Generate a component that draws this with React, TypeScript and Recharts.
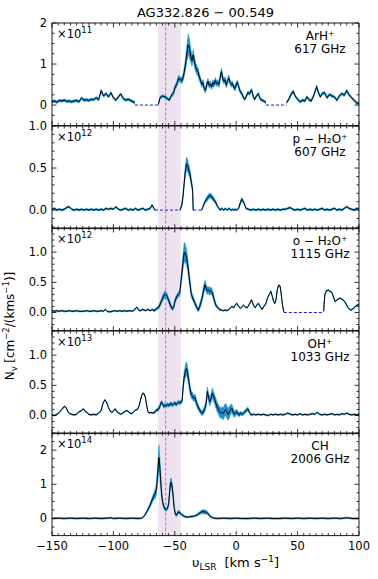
import { ComposedChart, Line, Area, XAxis, YAxis, ReferenceArea, ReferenceLine } from 'recharts'

// [v_LSR (km/s), N_v (panel units), 1-sigma]; null rows break the line at masked channels
type Pt = [number, number | null, number]

const FONT = '"DejaVu Sans", Verdana, sans-serif'
const BAND = '#1f93d2'
const GAP_BLUE = '#1717e0'

const X_DOMAIN: [number, number] = [-150, 100]
const X_MAJOR = [-150, -100, -50, 0, 50, 100]
const X_MAJOR_LABELS = ['−150', '−100', '−50', '0', '50', '100']

const SHADE_RANGE = [-63.5, -45.2]
const SOURCE_VLSR = -57.4

const ARH: Pt[] = [
  [-150, 0.08, 0.03], [-148, 0.1, 0.03], [-146, 0.07, 0.03], [-144, 0.11, 0.03], [-142, 0.1, 0.03],
  [-140, 0.12, 0.03], [-138, 0.09, 0.03], [-136, 0.1, 0.03], [-134, 0.08, 0.03], [-132, 0.1, 0.03],
  [-130, 0.11, 0.03], [-128, 0.08, 0.03], [-126, 0.17, 0.03], [-124, 0.12, 0.03], [-122, 0.13, 0.03],
  [-120, 0.11, 0.03], [-118, 0.14, 0.03], [-116, 0.13, 0.03], [-114, 0.18, 0.03], [-112, 0.13, 0.03],
  [-110, 0.35, 0.04], [-108, 0.22, 0.03], [-106, 0.28, 0.03], [-104, 0.2, 0.03], [-102, 0.3, 0.03],
  [-100, 0.18, 0.03], [-98, 0.12, 0.03], [-96, 0.2, 0.03], [-94, 0.27, 0.03], [-92, 0.16, 0.03],
  [-90, 0.12, 0.03], [-88, 0.14, 0.03], [-86, 0.11, 0.03], [-84, 0.08, 0.03], [-82.5, 0.06, 0.03],
  [-73, null, 0],
  [-63.4, 0.02, 0.03], [-62, 0.18, 0.03], [-60, 0.22, 0.03], [-58, 0.2, 0.03], [-56, 0.16, 0.03],
  [-54.5, 0.12, 0.03], [-53, 0.22, 0.04], [-51, 0.3, 0.05], [-50, 0.42, 0.06], [-48.5, 0.5, 0.06],
  [-47, 0.65, 0.07], [-45.5, 0.62, 0.07], [-44, 0.6, 0.07], [-43, 0.7, 0.08], [-41.5, 0.95, 0.13],
  [-40, 1.3, 0.2], [-39, 1.47, 0.26], [-38, 1.38, 0.22], [-37, 1.2, 0.16], [-36, 1.08, 0.13],
  [-35, 1.22, 0.13], [-34, 1.05, 0.11], [-33, 0.92, 0.11], [-32, 0.85, 0.1], [-31, 0.8, 0.1],
  [-30, 0.68, 0.09], [-29, 0.6, 0.08], [-28, 0.5, 0.07], [-27, 0.55, 0.07], [-26, 0.4, 0.06],
  [-25, 0.36, 0.06], [-24, 0.5, 0.07], [-23, 0.58, 0.07], [-22, 0.48, 0.07], [-21, 0.52, 0.07],
  [-20, 0.44, 0.06], [-19, 0.55, 0.07], [-18, 0.5, 0.07], [-17, 0.6, 0.07], [-16, 0.52, 0.07],
  [-15, 0.55, 0.07], [-14, 0.5, 0.07], [-13, 0.68, 0.08], [-12, 0.82, 0.08], [-11, 0.65, 0.07],
  [-10, 0.58, 0.07], [-9, 0.62, 0.07], [-8, 0.48, 0.06], [-7, 0.6, 0.07], [-6, 0.66, 0.07],
  [-5, 0.56, 0.06], [-4, 0.5, 0.06], [-3, 0.52, 0.06], [-2, 0.44, 0.06], [-1, 0.4, 0.06],
  [0, 0.5, 0.06], [1, 0.55, 0.06], [2, 0.45, 0.05], [3, 0.35, 0.05], [4.5, 0.28, 0.04],
  [6, 0.18, 0.04], [7, 0.14, 0.03], [8, 0.2, 0.03], [9.5, 0.3, 0.04], [11, 0.28, 0.04],
  [12.5, 0.37, 0.04], [14, 0.2, 0.03], [15, 0.14, 0.03], [16.5, 0.22, 0.03], [18, 0.28, 0.03],
  [19.5, 0.15, 0.03], [21, 0.12, 0.03], [22.5, 0.1, 0.03], [24.3, 0.06, 0.03],
  [32, null, 0],
  [41, 0.06, 0.03], [43, 0.15, 0.03], [45, 0.28, 0.04], [46.5, 0.33, 0.04], [48, 0.22, 0.03],
  [50, 0.14, 0.03], [52, 0.08, 0.03], [54, 0.12, 0.03], [56, 0.1, 0.03], [57.5, 0.2, 0.03],
  [59, 0.14, 0.03], [61, 0.1, 0.03], [63, 0.22, 0.03], [65.5, 0.45, 0.04], [67, 0.3, 0.04],
  [68.5, 0.2, 0.03], [70, 0.28, 0.03], [72, 0.3, 0.03], [74, 0.18, 0.03], [76, 0.26, 0.03],
  [78, 0.22, 0.03], [80, 0.2, 0.03], [82, 0.12, 0.03], [84, 0.22, 0.03], [86, 0.28, 0.03],
  [88, 0.24, 0.03], [90, 0.35, 0.04], [92, 0.25, 0.03], [94, 0.18, 0.03], [96, 0.12, 0.03],
  [98, 0.05, 0.03], [100, 0.04, 0.03],
]
const ARH_GAPS = [[-82.5, -63.4], [24.3, 41]]

const PH2O: Pt[] = [
  [-150, 0.01, 0.01], [-148, 0.02, 0.01], [-146, 0.0, 0.01], [-144, 0.01, 0.01], [-142, 0.0, 0.01],
  [-140, 0.01, 0.01], [-138, 0.03, 0.01], [-136, 0.04, 0.01], [-134, 0.01, 0.01], [-132, 0.0, 0.01],
  [-130, 0.01, 0.01], [-128, 0.0, 0.01], [-126, 0.01, 0.01], [-124, 0.0, 0.01], [-122, 0.01, 0.01],
  [-120, 0.0, 0.01], [-118, 0.01, 0.01], [-116, 0.0, 0.01], [-114, 0.01, 0.01], [-112, 0.0, 0.01],
  [-110, 0.01, 0.01], [-108, 0.0, 0.01], [-106, 0.02, 0.01], [-104, 0.01, 0.01], [-102, 0.02, 0.01],
  [-100, 0.01, 0.01], [-98, 0.04, 0.01], [-96, 0.01, 0.01], [-94, 0.0, 0.01], [-92, 0.01, 0.01],
  [-90, 0.02, 0.01], [-88, 0.0, 0.01], [-86, 0.01, 0.01], [-84, 0.0, 0.01], [-82, 0.02, 0.01],
  [-80, 0.0, 0.01], [-78, 0.01, 0.01], [-76, 0.02, 0.01], [-74, 0.0, 0.01], [-72, 0.01, 0.01],
  [-70, 0.02, 0.01], [-68.5, 0.06, 0.01], [-67, 0.02, 0.01], [-66.1, 0.0, 0.01],
  [-56, null, 0],
  [-45.8, 0.0, 0.01], [-44.5, 0.05, 0.02], [-43.5, 0.14, 0.03], [-42.5, 0.3, 0.04], [-41.5, 0.45, 0.06],
  [-40.5, 0.55, 0.08], [-39.5, 0.53, 0.07], [-38.5, 0.47, 0.06], [-37.5, 0.42, 0.05], [-36.5, 0.33, 0.04],
  [-35.5, 0.24, 0.03], [-35, 0.0, 0.01],
  [-31.5, null, 0],
  [-28.1, 0.0, 0.01], [-27, 0.04, 0.01], [-26, 0.08, 0.02], [-25, 0.11, 0.02], [-24, 0.13, 0.03],
  [-23, 0.15, 0.03], [-22, 0.17, 0.03], [-21, 0.17, 0.03], [-20, 0.16, 0.03], [-19, 0.14, 0.03],
  [-18, 0.12, 0.02], [-17, 0.1, 0.02], [-16, 0.07, 0.02], [-15, 0.04, 0.01], [-14, 0.02, 0.01],
  [-13, 0.0, 0.01], [-12, 0.02, 0.01], [-11, 0.01, 0.01], [-10, 0.0, 0.01], [-9, 0.02, 0.01],
  [-8, 0.01, 0.01], [-7, 0.0, 0.01], [-6, 0.02, 0.01], [-5, 0.01, 0.01], [-4, 0.0, 0.01],
  [-3, 0.01, 0.01], [-2, 0.0, 0.01], [-1, 0.01, 0.01], [0, 0.0, 0.01], [1, 0.01, 0.01],
  [2, 0.02, 0.01], [3, 0.07, 0.02], [4.5, 0.13, 0.02], [5.5, 0.11, 0.02], [7, 0.06, 0.01],
  [8, 0.02, 0.01], [10, 0.01, 0.01], [12, 0.0, 0.01], [14, 0.01, 0.01], [16, 0.0, 0.01],
  [18, 0.01, 0.01], [20, 0.0, 0.01], [22, 0.01, 0.01], [24, 0.0, 0.01], [26, 0.01, 0.01],
  [28, 0.0, 0.01], [30, 0.01, 0.01], [32, 0.0, 0.01], [34, 0.01, 0.01], [36, 0.0, 0.01],
  [38, 0.01, 0.01], [40, 0.01, 0.01], [42, 0.02, 0.01], [44, 0.03, 0.01], [46, 0.01, 0.01],
  [48, 0.0, 0.01], [50, 0.01, 0.01], [52, 0.0, 0.01], [54, 0.01, 0.01], [56, 0.02, 0.01],
  [58, 0.0, 0.01], [60, 0.01, 0.01], [62, 0.0, 0.01], [64, 0.01, 0.01], [66, 0.0, 0.01],
  [68, 0.01, 0.01], [70, 0.02, 0.01], [72, 0.0, 0.01], [74, 0.01, 0.01], [76, 0.0, 0.01],
  [78, 0.01, 0.01], [80, 0.02, 0.01], [82, 0.0, 0.01], [84, 0.01, 0.01], [86, 0.0, 0.01],
  [88, 0.02, 0.01], [90, 0.04, 0.01], [92, 0.02, 0.01], [94, 0.01, 0.01], [96, 0.0, 0.01],
  [98, 0.02, 0.01], [100, 0.01, 0.01],
]
const PH2O_GAPS = [[-66.1, -45.8], [-35, -28.1]]

const OH2O: Pt[] = [
  [-150, 0.03, 0.01], [-148, 0.02, 0.01], [-146, 0.03, 0.01], [-144, 0.02, 0.01], [-142, 0.03, 0.01],
  [-140, 0.02, 0.01], [-138, 0.02, 0.01], [-136, 0.03, 0.01], [-134, 0.02, 0.01], [-132, 0.02, 0.01],
  [-130, 0.03, 0.01], [-128, 0.02, 0.01], [-126, 0.02, 0.01], [-124, 0.02, 0.01], [-122, 0.03, 0.01],
  [-120, 0.02, 0.01], [-118, 0.02, 0.01], [-116, 0.03, 0.01], [-114, 0.02, 0.01], [-112, 0.02, 0.01],
  [-110, 0.03, 0.01], [-108, 0.02, 0.01], [-106.5, 0.05, 0.01], [-105, 0.02, 0.01], [-103, 0.01, 0.01],
  [-101, 0.02, 0.01], [-99, 0.03, 0.01], [-97, 0.02, 0.01], [-95, 0.03, 0.01], [-93, 0.02, 0.01],
  [-91, 0.03, 0.01], [-89, 0.02, 0.01], [-87, 0.03, 0.01], [-85, 0.02, 0.01], [-83, 0.04, 0.01],
  [-81, 0.09, 0.01], [-79.5, 0.04, 0.01], [-78, 0.03, 0.01], [-76, 0.05, 0.01], [-74, 0.03, 0.01],
  [-72, 0.05, 0.01], [-70, 0.03, 0.01], [-68.5, 0.05, 0.01], [-67, 0.03, 0.02], [-65, 0.06, 0.02],
  [-63, 0.09, 0.03], [-61, 0.18, 0.04], [-59.5, 0.26, 0.05], [-58, 0.3, 0.06], [-56.5, 0.28, 0.05],
  [-55, 0.2, 0.04], [-53.5, 0.12, 0.04], [-52, 0.06, 0.03], [-51, 0.08, 0.03], [-50, 0.18, 0.04],
  [-48.5, 0.26, 0.04], [-47, 0.3, 0.04], [-46, 0.32, 0.05], [-45, 0.5, 0.07], [-44, 0.7, 0.1],
  [-43, 0.9, 0.13], [-42.3, 1.0, 0.16], [-41.5, 0.98, 0.15], [-40.5, 0.92, 0.13], [-39.5, 0.8, 0.1],
  [-38.5, 0.62, 0.09], [-37.5, 0.45, 0.07], [-36.5, 0.3, 0.05], [-35, 0.22, 0.04], [-33.5, 0.15, 0.04],
  [-32, 0.08, 0.03], [-31, 0.04, 0.03], [-30, 0.08, 0.04], [-29, 0.15, 0.05], [-28, 0.22, 0.05],
  [-27, 0.32, 0.06], [-26, 0.42, 0.07], [-25.3, 0.46, 0.07], [-24.5, 0.4, 0.06], [-23.5, 0.36, 0.06],
  [-22.5, 0.37, 0.06], [-21.5, 0.35, 0.06], [-20.5, 0.36, 0.06], [-19.5, 0.33, 0.05], [-18.5, 0.26, 0.05],
  [-17.5, 0.18, 0.04], [-16.5, 0.12, 0.03], [-15, 0.08, 0.02], [-13.5, 0.05, 0.02], [-12, 0.04, 0.01],
  [-10.5, 0.03, 0.01], [-9, 0.04, 0.01], [-7.5, 0.03, 0.01], [-6, 0.05, 0.01], [-4.5, 0.08, 0.01],
  [-3.5, 0.1, 0.01], [-2, 0.08, 0.01], [-1, 0.12, 0.01], [0.5, 0.15, 0.01], [2, 0.1, 0.01],
  [3.5, 0.07, 0.01], [5, 0.1, 0.01], [6, 0.12, 0.01], [7.5, 0.09, 0.01], [9, 0.08, 0.01],
  [10.5, 0.13, 0.01], [12.5, 0.21, 0.01], [14, 0.12, 0.01], [15.5, 0.08, 0.01], [17, 0.13, 0.01],
  [18, 0.15, 0.01], [19.5, 0.1, 0.01], [21, 0.05, 0.01], [22.5, 0.1, 0.01], [24, 0.14, 0.01],
  [25.5, 0.24, 0.01], [27, 0.3, 0.01], [28.3, 0.35, 0.01], [29.5, 0.26, 0.01], [30.5, 0.18, 0.01],
  [31.5, 0.15, 0.01], [32.5, 0.22, 0.01], [33.5, 0.38, 0.01], [34.5, 0.45, 0.01], [35.7, 0.44, 0.01],
  [36.7, 0.3, 0.01], [37.7, 0.12, 0.01], [38.8, 0.01, 0.01],
  [55, null, 0],
  [71.2, 0.02, 0.01], [72.2, 0.3, 0.01], [73.5, 0.36, 0.01], [75, 0.37, 0.01], [76.5, 0.35, 0.01],
  [78, 0.33, 0.01], [79.5, 0.24, 0.01], [80.5, 0.18, 0.01], [81.5, 0.2, 0.01], [83, 0.22, 0.01],
  [84.5, 0.24, 0.01], [86, 0.22, 0.01], [87.5, 0.2, 0.01], [89, 0.16, 0.01], [90.5, 0.1, 0.01],
  [92, 0.06, 0.01], [93.5, 0.04, 0.01], [95, 0.06, 0.01], [96.7, 0.09, 0.01], [98, 0.12, 0.01],
  [100, 0.13, 0.01],
]
const OH2O_GAPS = [[38.8, 71.2]]

const OHP: Pt[] = [
  [-150, 0.01, 0.01], [-148, 0.0, 0.01], [-146, 0.02, 0.01], [-144, 0.05, 0.01], [-142, 0.1, 0.01],
  [-140, 0.15, 0.01], [-138.5, 0.13, 0.01], [-137, 0.06, 0.01], [-135.5, 0.03, 0.01], [-134, 0.02, 0.01],
  [-132, 0.01, 0.01], [-130, 0.02, 0.01], [-128, 0.06, 0.01], [-126, 0.08, 0.01], [-124.5, 0.11, 0.01],
  [-123, 0.07, 0.01], [-121.5, 0.05, 0.01], [-120, 0.02, 0.01], [-118, 0.01, 0.01], [-116, 0.02, 0.01],
  [-114, 0.01, 0.01], [-112, 0.04, 0.01], [-110, 0.08, 0.01], [-108.5, 0.2, 0.01], [-107, 0.26, 0.01],
  [-105.5, 0.22, 0.01], [-104, 0.13, 0.01], [-102.5, 0.07, 0.01], [-101, 0.05, 0.01], [-99.5, 0.09, 0.01],
  [-98.5, 0.11, 0.01], [-97, 0.06, 0.01], [-95.5, 0.04, 0.01], [-94, 0.02, 0.01], [-92.5, 0.04, 0.01],
  [-91, 0.06, 0.01], [-89.5, 0.08, 0.01], [-88, 0.07, 0.01], [-86.5, 0.04, 0.01], [-85, 0.03, 0.01],
  [-83.5, 0.06, 0.01], [-82, 0.09, 0.01], [-80.5, 0.1, 0.01], [-79, 0.16, 0.01], [-78, 0.25, 0.01],
  [-77, 0.33, 0.01], [-76, 0.37, 0.01], [-75, 0.36, 0.01], [-74, 0.3, 0.01], [-73, 0.18, 0.01],
  [-72, 0.07, 0.01], [-71, 0.04, 0.01], [-69.5, 0.05, 0.01], [-68, 0.04, 0.01], [-66.5, 0.05, 0.02],
  [-65, 0.09, 0.02], [-63.5, 0.1, 0.03], [-62, 0.16, 0.03], [-61, 0.22, 0.03], [-60, 0.2, 0.03],
  [-59, 0.15, 0.03], [-58, 0.17, 0.03], [-57, 0.16, 0.03], [-56, 0.18, 0.03], [-55, 0.17, 0.03],
  [-54, 0.18, 0.03], [-53, 0.2, 0.03], [-52, 0.17, 0.03], [-51, 0.19, 0.03], [-50, 0.21, 0.03],
  [-49, 0.18, 0.03], [-48, 0.2, 0.03], [-47, 0.22, 0.03], [-46, 0.21, 0.03], [-45, 0.22, 0.03],
  [-44, 0.25, 0.04], [-43.3, 0.45, 0.06], [-42.5, 0.62, 0.08], [-41.5, 0.72, 0.1], [-40.5, 0.78, 0.11],
  [-39.5, 0.7, 0.1], [-38.5, 0.56, 0.08], [-37.5, 0.42, 0.07], [-36.5, 0.34, 0.06], [-35.5, 0.32, 0.06],
  [-34.5, 0.28, 0.05], [-33.5, 0.3, 0.05], [-32.5, 0.22, 0.05], [-31.5, 0.16, 0.05], [-30.5, 0.12, 0.04],
  [-29.5, 0.08, 0.04], [-28.5, 0.05, 0.04], [-27.5, 0.04, 0.04], [-26.5, 0.07, 0.05], [-25.5, 0.12, 0.05],
  [-24.5, 0.2, 0.06], [-23.5, 0.4, 0.07], [-22.5, 0.3, 0.07], [-21.5, 0.23, 0.07], [-20.5, 0.28, 0.07],
  [-19.5, 0.37, 0.08], [-18.5, 0.32, 0.08], [-17.5, 0.26, 0.08], [-16.5, 0.2, 0.08], [-15.5, 0.14, 0.08],
  [-14.5, 0.1, 0.08], [-13.5, 0.06, 0.08], [-12.5, 0.04, 0.09], [-11.5, 0.05, 0.09], [-10.5, 0.03, 0.1],
  [-9.5, 0.08, 0.1], [-8.5, 0.1, 0.1], [-7.5, 0.05, 0.1], [-6.5, 0.02, 0.1], [-5.5, 0.06, 0.09],
  [-4.5, 0.1, 0.08], [-3.5, 0.12, 0.07], [-2.5, 0.06, 0.06], [-1.5, 0.02, 0.05], [-0.5, 0.04, 0.05],
  [0.5, 0.06, 0.04], [1.5, 0.03, 0.04], [2.5, 0.01, 0.03], [3.5, 0.04, 0.03], [5, 0.02, 0.03],
  [6.5, 0.05, 0.03], [8, 0.08, 0.03], [9.5, 0.11, 0.03], [11, 0.04, 0.02], [12.5, 0.01, 0.02],
  [14, 0.02, 0.01], [16, 0.01, 0.01], [18, 0.02, 0.01], [20, 0.01, 0.01], [22, 0.02, 0.01],
  [24, 0.01, 0.01], [26, 0.0, 0.01], [28, 0.02, 0.01], [30, 0.01, 0.01], [32, 0.02, 0.01],
  [34, 0.01, 0.01], [36, 0.02, 0.01], [38, 0.01, 0.01], [40, 0.02, 0.01], [42, 0.04, 0.01],
  [44, 0.02, 0.01], [46, 0.01, 0.01], [48, 0.02, 0.01], [50, 0.01, 0.01], [52, 0.03, 0.01],
  [54, 0.01, 0.01], [56, 0.02, 0.01], [58, 0.01, 0.01], [60, 0.02, 0.01], [62, 0.03, 0.01],
  [64, 0.02, 0.01], [66, 0.05, 0.01], [68, 0.02, 0.01], [70, 0.01, 0.01], [72, 0.02, 0.01],
  [74, 0.01, 0.01], [76, 0.02, 0.01], [78, 0.03, 0.01], [80, 0.01, 0.01], [82, 0.02, 0.01],
  [84, 0.01, 0.01], [86, 0.03, 0.01], [88, 0.02, 0.01], [90, 0.04, 0.01], [92, 0.02, 0.01],
  [94, 0.01, 0.01], [96, 0.02, 0.01], [98, 0.01, 0.01], [100, 0.02, 0.01],
]

const CH: Pt[] = [
  [-150, 0.0, 0.02], [-145, 0.01, 0.02], [-140, 0.0, 0.02], [-135, 0.01, 0.02], [-130, 0.0, 0.02],
  [-125, 0.01, 0.02], [-120, 0.0, 0.02], [-115, 0.01, 0.02], [-110, 0.0, 0.02], [-105, 0.01, 0.02],
  [-102, 0.02, 0.02], [-100, 0.0, 0.02], [-95, 0.01, 0.02], [-90, 0.0, 0.02], [-85, 0.01, 0.02],
  [-80, 0.0, 0.02], [-77, 0.01, 0.02], [-75.5, 0.05, 0.02], [-74, 0.12, 0.03], [-72.5, 0.22, 0.04],
  [-71, 0.32, 0.05], [-69.5, 0.45, 0.07], [-68, 0.58, 0.09], [-67, 0.66, 0.11], [-66, 0.72, 0.13],
  [-65, 0.85, 0.16], [-64.2, 1.2, 0.23], [-63.5, 1.55, 0.3], [-62.9, 1.78, 0.36], [-62.2, 1.5, 0.28],
  [-61.5, 1.15, 0.2], [-60.8, 0.75, 0.12], [-60, 0.5, 0.08], [-59, 0.35, 0.06], [-58, 0.28, 0.05],
  [-57, 0.26, 0.05], [-56, 0.3, 0.05], [-55, 0.42, 0.06], [-54.3, 0.75, 0.1], [-53.5, 1.05, 0.13],
  [-52.8, 1.05, 0.13], [-52, 0.88, 0.11], [-51.2, 0.6, 0.08], [-50.5, 0.32, 0.05], [-49.5, 0.12, 0.04],
  [-48.5, 0.1, 0.04], [-47.5, 0.18, 0.05], [-46.5, 0.19, 0.05], [-45.5, 0.15, 0.04], [-44.5, 0.12, 0.03],
  [-43.5, 0.09, 0.03], [-42, 0.06, 0.03], [-40, 0.04, 0.02], [-38, 0.05, 0.02], [-36, 0.06, 0.02],
  [-34, 0.07, 0.02], [-32, 0.1, 0.03], [-30, 0.15, 0.04], [-28.5, 0.19, 0.05], [-27, 0.2, 0.06],
  [-25.5, 0.19, 0.06], [-24, 0.18, 0.05], [-22.5, 0.12, 0.04], [-21, 0.06, 0.03], [-19.5, 0.03, 0.02],
  [-18, 0.01, 0.02], [-15, 0.0, 0.02], [-10, 0.01, 0.02], [-5, 0.0, 0.02], [0, 0.01, 0.02],
  [5, 0.0, 0.02], [10, 0.0, 0.02], [15, 0.01, 0.02], [20, 0.0, 0.02], [25, 0.01, 0.02],
  [30, 0.0, 0.02], [35, 0.0, 0.02], [40, 0.01, 0.02], [45, 0.0, 0.02], [50, 0.01, 0.02],
  [55, 0.0, 0.02], [60, 0.01, 0.02], [65, 0.0, 0.02], [70, 0.01, 0.02], [75, 0.0, 0.02],
  [80, 0.01, 0.02], [85, 0.0, 0.02], [90, 0.02, 0.02], [95, 0.0, 0.02], [100, 0.0, 0.02],
]

const SPECIES = ['ArH⁺', 'p − H₂O⁺', 'o − H₂O⁺', 'OH⁺', 'CH']
const FREQS = ['617 GHz', '607 GHz', '1115 GHz', '1033 GHz', '2006 GHz']
const EXPONENTS = ['11', '12', '12', '13', '14']

const PANELS = [
  { data: ARH, gaps: ARH_GAPS, domain: [-0.5, 2], major: [0, 1, 2], labels: ['0', '1', '2'], minor: 0.25 },
  { data: PH2O, gaps: PH2O_GAPS, domain: [-0.22, 1], major: [0, 0.5, 1], labels: ['0.0', '0.5', '1.0'], minor: 0.1 },
  { data: OH2O, gaps: OH2O_GAPS, domain: [-0.3, 1.4], major: [0, 0.5, 1], labels: ['0.0', '0.5', '1.0'], minor: 0.1 },
  { data: OHP, gaps: [], domain: [-0.3, 1.4], major: [0, 0.5, 1], labels: ['0.0', '0.5', '1.0'], minor: 0.1 },
  { data: CH, gaps: [], domain: [-0.5, 2.5], major: [0, 1, 2], labels: ['0', '1', '2'], minor: 0.25 },
]

const W = 378
const H = 579
const PLOT_LEFT = 52
const PLOT_RIGHT = 359
const FIRST_TOP = 23
const PANEL_H = 102.6
const PAD = 14
const BOTTOM_PAD = 34
// axes need a non-zero size to be drawn at all; this 1px is taken out of the margins
const AXIS_PX = 1

function steps(lo: number, hi: number, step: number) {
  const out: number[] = []
  const n = Math.floor((hi - lo) / step + 1e-6)
  for (let i = 0; i <= n; i++) out.push(Math.round((lo + i * step) * 1000) / 1000)
  return out
}

const X_TICKS = steps(-150, 100, 5)

function near(a: number, b: number) {
  return Math.abs(a - b) < 1e-6
}

function makeXTick(side: 'top' | 'bottom', showLabel: boolean) {
  return (props: any) => {
    const { x, y, payload } = props
    const idx = X_MAJOR.findIndex((m) => near(m, payload.value))
    const len = idx >= 0 ? 4.5 : 2.5
    const dir = side === 'bottom' ? -1 : 1
    return (
      <g>
        <line x1={x} x2={x} y1={y} y2={y + dir * len} stroke="#000" strokeWidth={0.8} />
        {showLabel && idx >= 0 && (
          <text x={x} y={y + 14.5} textAnchor="middle" fontSize={11.5} fontFamily={FONT} fill="#000">
            {X_MAJOR_LABELS[idx]}
          </text>
        )}
      </g>
    )
  }
}

function makeYTick(side: 'left' | 'right', major: number[], labels: string[]) {
  return (props: any) => {
    const { x, y, payload } = props
    const idx = major.findIndex((m) => near(m, payload.value))
    const len = idx >= 0 ? 4.5 : 2.5
    const dir = side === 'left' ? 1 : -1
    return (
      <g>
        <line x1={x} x2={x + dir * len} y1={y} y2={y} stroke="#000" strokeWidth={0.8} />
        {side === 'left' && idx >= 0 && (
          <text x={x - 5} y={y + 4} textAnchor="end" fontSize={11.5} fontFamily={FONT} fill="#000">
            {labels[idx]}
          </text>
        )}
      </g>
    )
  }
}

function Panel({ index }: { index: number }) {
  const p = PANELS[index]
  const last = index === PANELS.length - 1
  const top = FIRST_TOP + index * PANEL_H
  const padBottom = last ? BOTTOM_PAD : PAD
  const rows = p.data.map(([v, n, e]) => ({
    v,
    n,
    band: n == null ? null : [n - e, n + e],
  }))
  const up = steps(0, p.domain[1], p.minor)
  const down = steps(0, -p.domain[0], p.minor).slice(1).map((t) => -t)
  const yTicks = down.reverse().concat(up)
  const axisLine = { stroke: '#000', strokeWidth: 0.9 }

  return (
    <div style={{ position: 'absolute', left: 0, top: top - PAD }}>
      <ComposedChart
        width={W}
        height={PANEL_H + PAD + padBottom}
        data={rows}
        margin={{
          top: PAD - AXIS_PX,
          bottom: padBottom - AXIS_PX,
          left: PLOT_LEFT - AXIS_PX,
          right: W - PLOT_RIGHT - AXIS_PX,
        }}
      >
        <XAxis
          xAxisId="b"
          dataKey="v"
          type="number"
          domain={X_DOMAIN}
          allowDataOverflow
          ticks={X_TICKS}
          interval={0}
          height={AXIS_PX}
          tickSize={0}
          tickMargin={0}
          tickLine={false}
          axisLine={axisLine}
          tick={makeXTick('bottom', last)}
        />
        <XAxis
          xAxisId="t"
          orientation="top"
          dataKey="v"
          type="number"
          domain={X_DOMAIN}
          allowDataOverflow
          ticks={X_TICKS}
          interval={0}
          height={AXIS_PX}
          tickSize={0}
          tickMargin={0}
          tickLine={false}
          axisLine={axisLine}
          tick={makeXTick('top', false)}
        />
        <YAxis
          yAxisId="l"
          type="number"
          domain={p.domain}
          allowDataOverflow
          ticks={yTicks}
          interval={0}
          width={AXIS_PX}
          tickSize={0}
          tickMargin={0}
          tickLine={false}
          axisLine={axisLine}
          tick={makeYTick('left', p.major, p.labels)}
        />
        <YAxis
          yAxisId="r"
          orientation="right"
          type="number"
          domain={p.domain}
          allowDataOverflow
          ticks={yTicks}
          interval={0}
          width={AXIS_PX}
          tickSize={0}
          tickMargin={0}
          tickLine={false}
          axisLine={axisLine}
          tick={makeYTick('right', p.major, p.labels)}
        />
        <ReferenceArea
          xAxisId="b"
          yAxisId="l"
          x1={SHADE_RANGE[0]}
          x2={SHADE_RANGE[1]}
          fill="#8b3a92"
          fillOpacity={0.15}
          stroke="none"
        />
        <ReferenceLine
          xAxisId="b"
          yAxisId="l"
          x={SOURCE_VLSR}
          stroke="#a266a8"
          strokeWidth={0.9}
          strokeDasharray="3 2"
        />
        {p.gaps.map(([a, b], i) => (
          <ReferenceLine
            key={i}
            xAxisId="b"
            yAxisId="l"
            segment={[{ x: a, y: 0 }, { x: b, y: 0 }]}
            stroke={GAP_BLUE}
            strokeWidth={1}
            strokeDasharray="3 2"
          />
        ))}
        <Area
          xAxisId="b"
          yAxisId="l"
          dataKey="band"
          stroke={BAND}
          strokeWidth={0.6}
          fill={BAND}
          fillOpacity={1}
          dot={false}
          activeDot={false}
          isAnimationActive={false}
        />
        <Line
          xAxisId="b"
          yAxisId="l"
          dataKey="n"
          stroke="#000"
          strokeWidth={0.95}
          dot={false}
          activeDot={false}
          isAnimationActive={false}
        />
      </ComposedChart>
    </div>
  )
}

function Annotations() {
  const midX = (PLOT_LEFT + PLOT_RIGHT) / 2
  return (
    <svg
      width={W}
      height={H}
      style={{ position: 'absolute', left: 0, top: 0, pointerEvents: 'none' }}
      fontFamily={FONT}
      fill="#000"
    >
      <text x={midX} y={17} textAnchor="middle" fontSize={13}>
        AG332.826 − 00.549
      </text>
      {SPECIES.map((s, i) => {
        const top = FIRST_TOP + i * PANEL_H
        return (
          <g key={s}>
            <text x={57} y={top + 15} fontSize={11.5}>
              ×10<tspan dy={-5} fontSize={8.5}>{EXPONENTS[i]}</tspan>
            </text>
            <text x={320} y={top + 17} textAnchor="middle" fontSize={12}>
              {s}
            </text>
            <text x={320} y={top + 30} textAnchor="middle" fontSize={12}>
              {FREQS[i]}
            </text>
          </g>
        )
      })}
      <text x={192} y={567} fontSize={13}>
        υ<tspan dy={3} fontSize={9}>LSR</tspan>
        <tspan dy={-3} dx={8}>[km s</tspan>
        <tspan dy={-5} fontSize={9}>−1</tspan>
        <tspan dy={5}>]</tspan>
      </text>
      <text x={14} y={326} fontSize={12} textAnchor="middle" transform="rotate(-90 14 326)">
        N<tspan dy={3} fontSize={8.5}>v</tspan>
        <tspan dy={-3} dx={3.5}>[cm</tspan>
        <tspan dy={-5} fontSize={8.5}>−2</tspan>
        <tspan dy={5}>/(kms</tspan>
        <tspan dy={-5} fontSize={8.5}>−1</tspan>
        <tspan dy={5}>)]</tspan>
      </text>
    </svg>
  )
}

export default function App() {
  return (
    <div style={{ position: 'absolute', left: 0, top: 0, width: W, height: H, background: '#fff' }}>
      {PANELS.map((_, i) => (
        <Panel key={i} index={i} />
      ))}
      <Annotations />
    </div>
  )
}
